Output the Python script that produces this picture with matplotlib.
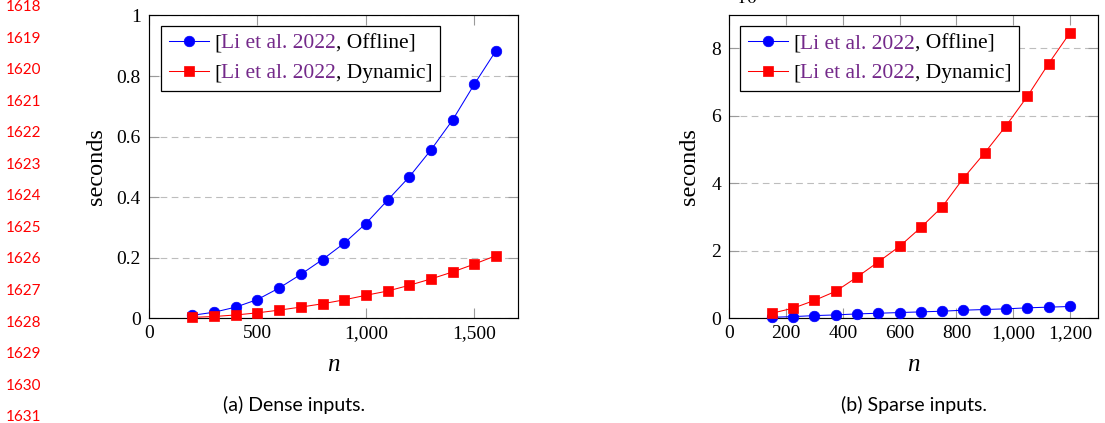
import matplotlib
matplotlib.use('Agg')
import matplotlib.pyplot as plt
from matplotlib.font_manager import FontProperties
from matplotlib.ticker import FuncFormatter, MultipleLocator

# ── DATA ──────────────────────────────────────────────────────

dense_n = [200, 300, 400, 500, 600, 700, 800, 900, 1000, 1100, 1200, 1300, 1400, 1500, 1600]
dense_offline = [0.010, 0.020, 0.037, 0.062, 0.100, 0.145, 0.194, 0.248, 0.313, 0.390, 0.467, 0.556, 0.655, 0.773, 0.884]
dense_dynamic = [0.003, 0.006, 0.011, 0.018, 0.027, 0.037, 0.048, 0.061, 0.076, 0.090, 0.109, 0.130, 0.153, 0.179, 0.207]

sparse_n = [150, 225, 300, 375, 450, 525, 600, 675, 750, 825, 900, 975, 1050, 1125, 1200]
sparse_offline = [0.03, 0.05, 0.08, 0.10, 0.13, 0.15, 0.17, 0.19, 0.21, 0.24, 0.26, 0.28, 0.31, 0.33, 0.35]
sparse_dynamic = [0.15, 0.30, 0.53, 0.80, 1.22, 1.67, 2.13, 2.69, 3.30, 4.15, 4.90, 5.70, 6.57, 7.54, 8.45]

cite = 'Li et al. 2022'
series_names = ['Offline', 'Dynamic']
captions = ['(a) Dense inputs.', '(b) Sparse inputs.']
line_numbers = list(range(1618, 1632))

PURPLE = '#74298a'
SERIF = 'Liberation Serif'
W, H = 1105, 423

plt.rcParams['font.family'] = [SERIF, 'DejaVu Serif']
plt.rcParams['mathtext.fontset'] = 'stix'


def px_axes(left, top, right, bottom):
    return [left / W, 1 - bottom / H, (right - left) / W, (bottom - top) / H]


def style_axes(ax):
    ax.tick_params(direction='in', length=7, width=0.8, color='#9a9a9a',
                   top=True, right=True, labelsize=14, pad=5)
    ax.tick_params(axis='y', pad=6)
    for sp in ax.spines.values():
        sp.set_linewidth(0.85)
        sp.set_color('black')
    ax.yaxis.grid(True, linestyle=(0, (6, 4)), color='#bdbdbd', linewidth=0.8)
    ax.set_axisbelow(True)
    ax.xaxis.set_major_formatter(FuncFormatter(lambda v, _: f'{v:,.0f}'))
    ax.yaxis.set_major_formatter(FuncFormatter(lambda v, _: f'{v:g}'))


def draw(ax, x, offline, dynamic):
    ax.plot(x, offline, color='blue', marker='o', markersize=7.6, linewidth=0.75,
            markeredgewidth=0.5, clip_on=False, zorder=3,
            label=f'[{cite}, {series_names[0]}]')
    ax.plot(x, dynamic, color='red', marker='s', markersize=7.6, linewidth=0.75,
            markeredgewidth=0.5, clip_on=False, zorder=3,
            label=f'[{cite}, {series_names[1]}]')


def labels(ax, ylabel_x):
    ax.set_xlabel('n', fontstyle='italic', fontsize=18)
    ax.set_ylabel('seconds', fontsize=17.5)
    ax.xaxis.set_label_coords(0.5, -0.155)
    ax.xaxis.label.set_va('center')
    ax.yaxis.set_label_coords(ylabel_x, 0.5)
    ax.yaxis.label.set_va('center')


def legend(ax, anchor):
    fp = FontProperties(family=SERIF, size=15.5)
    leg = ax.legend(loc='upper left', bbox_to_anchor=anchor, borderaxespad=0,
                    fancybox=False, edgecolor='black', framealpha=1, prop=fp,
                    handlelength=1.85, handletextpad=0.25, borderpad=0.35,
                    labelspacing=0.45)
    leg.get_frame().set_linewidth(0.9)
    # recolour the citation part of each label
    for txt, name in zip(leg.get_texts(), series_names):
        txt.set_color('none')
        prev, xy = txt, (0, 0)
        for s, c in [('[', 'black'), (cite, PURPLE), (f', {name}]', 'black')]:
            prev = ax.annotate(s, xy=xy, xycoords=prev, va='bottom', ha='left',
                               color=c, fontproperties=fp, zorder=6)
            xy = (1, 0)


fig = plt.figure(figsize=(W / 100, H / 100), dpi=100)

# ── (a) dense ────────────────────────────────────────────────
ax1 = fig.add_axes(px_axes(149, 15.5, 517.7, 318.3))
draw(ax1, dense_n, dense_offline, dense_dynamic)
ax1.set_xlim(0, 1700)
ax1.set_ylim(0, 1)
ax1.xaxis.set_major_locator(MultipleLocator(500))
ax1.yaxis.set_major_locator(MultipleLocator(0.2))
style_axes(ax1)
labels(ax1, -0.142)
legend(ax1, (0.033, 0.966))

# ── (b) sparse ───────────────────────────────────────────────
ax2 = fig.add_axes(px_axes(729.3, 15, 1098.3, 318.3))
draw(ax2, sparse_n, sparse_offline, sparse_dynamic)
ax2.set_xlim(0, 1300)
ax2.set_ylim(0, 8.98)
ax2.xaxis.set_major_locator(MultipleLocator(200))
ax2.yaxis.set_major_locator(MultipleLocator(2))
style_axes(ax2)
labels(ax2, -0.109)
legend(ax2, (0.03, 0.964))

# scale label above the sparse plot (cut by the page edge, as in the source)
fig.text(731 / W, 1 - 4.5 / H, r'$\cdot 10^{-2}$', fontsize=14, ha='left', va='baseline')

# ── captions and line numbers ───────────────────────────────
fig.text(294.5 / W, 1 - 405 / H, captions[0], ha='center', va='center',
         family='Lato', fontsize=14)
fig.text(914 / W, 1 - 405 / H, captions[1], ha='center', va='center',
         family='Lato', fontsize=14)
for i, num in enumerate(line_numbers):
    fig.text(6 / W, 1 - (7 + 31.55 * i) / H, str(num), color='red',
             family='Lato', fontsize=11, ha='left', va='center')

fig.savefig('out.png', dpi=100)
